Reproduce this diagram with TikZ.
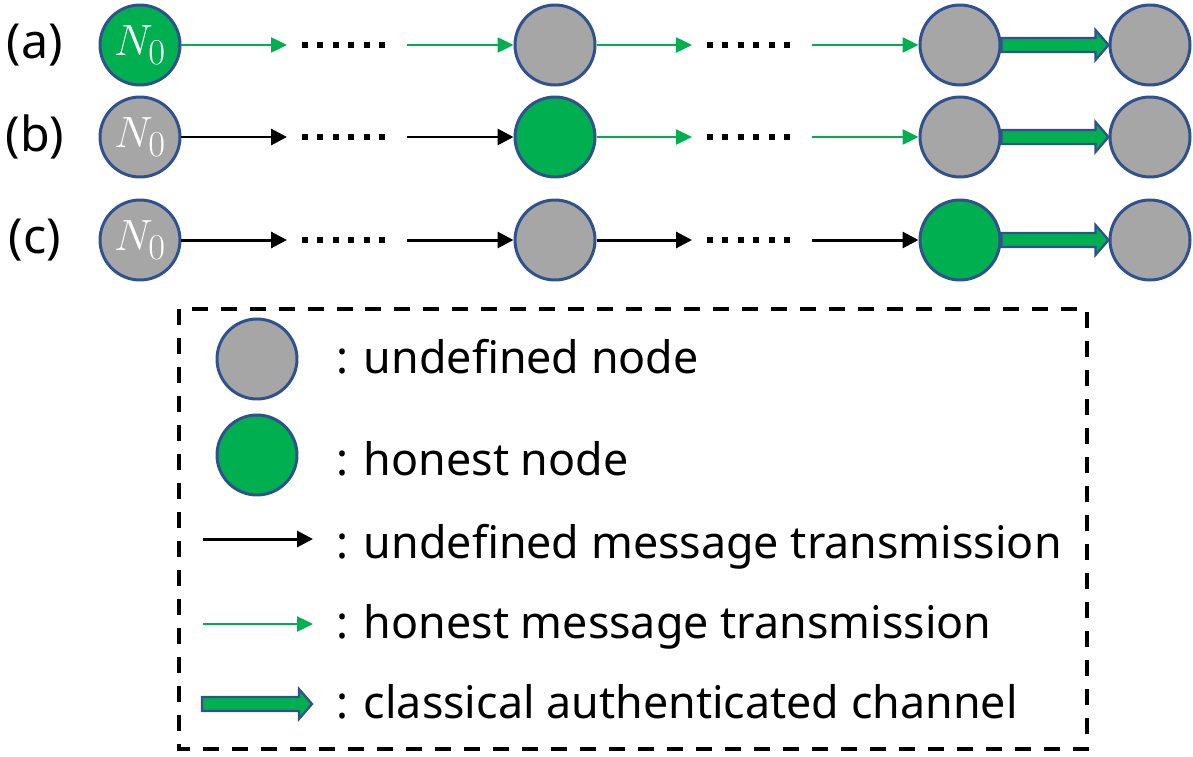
\documentclass[tikz,border=0pt]{standalone}
\usepackage{fontspec}
\setmainfont{Noto Sans}
\usetikzlibrary{calc}
\usetikzlibrary{arrows.meta}
\definecolor{hgreen}{HTML}{00B050}
\definecolor{ugray}{HTML}{A6A6A6}
\definecolor{rim}{HTML}{2F528F}
\tikzset{
	undef/.style={circle, draw=rim, line width=0.06cm, fill=ugray, minimum size=1.6cm, inner sep=0pt, text=white, font=\fontsize{31}{34}\selectfont},
	honest/.style={undef, fill=hgreen},
	umsg/.style={line width=0.06cm, -{Triangle[length=0.32cm,width=0.32cm]}},
	hmsg/.style={hgreen, line width=0.05cm, -{Triangle[length=0.32cm,width=0.3cm]}},
	dots/.style={line width=0.13cm, dash pattern=on 0.12cm off 0.188cm},
	lbl/.style={font=\fontsize{25.5}{30}\selectfont, inner sep=0pt}
}
\newcommand{\fatarrow}[2]{%
	\filldraw[fill=hgreen, draw=rim, line width=0.045cm, line join=miter]
	($(#1)+(0,-7)$) -- ($(#2)+(-13,-7)$) -- ($(#2)+(-13,-15)$) -- (#2)
	-- ($(#2)+(-13,15)$) -- ($(#2)+(-13,7)$) -- ($(#1)+(0,7)$) -- cycle;}

\begin{document}
\begin{tikzpicture}[x=0.02cm, y=-0.02cm]
	\useasboundingbox (0,0) rectangle (1193,757);

	% row (a)
	\node[lbl, font=\fontsize{27.5}{32}\selectfont] (la) at (35,45) {(a)};
	\node[honest] (A0) at (140,45) {$N_0$};
	\node[undef] (A1) at (555,45) {};
	\node[undef] (A2) at (960,45) {};
	\node[undef] (A3) at (1150,45) {};
	\coordinate (a1) at (287,45);
	\coordinate (a2) at (407,45);
	\coordinate (a3) at (692,45);
	\coordinate (a4) at (812,45);
	\draw[hmsg] (A0) -- (a1);
	\draw[dots] (302,45) -- (386,45);
	\draw[hmsg] (a2) -- (A1);
	\draw[hmsg] (A1) -- (a3);
	\draw[dots] (707,45) -- (791,45);
	\draw[hmsg] (a4) -- (A2);
	\fatarrow{A2.east}{A3.west}

	% row (b)
	\node[lbl, font=\fontsize{27.5}{32}\selectfont] (lb) at (35,137) {(b)};
	\node[undef] (B0) at (140,137) {$N_0$};
	\node[honest] (B1) at (555,137) {};
	\node[undef] (B2) at (960,137) {};
	\node[undef] (B3) at (1150,137) {};
	\coordinate (b1) at (287,137);
	\coordinate (b2) at (407,137);
	\coordinate (b3) at (692,137);
	\coordinate (b4) at (812,137);
	\draw[umsg] (B0) -- (b1);
	\draw[dots] (302,137) -- (386,137);
	\draw[umsg] (b2) -- (B1);
	\draw[hmsg] (B1) -- (b3);
	\draw[dots] (707,137) -- (791,137);
	\draw[hmsg] (b4) -- (B2);
	\fatarrow{B2.east}{B3.west}

	% row (c)
	\node[lbl, font=\fontsize{27.5}{32}\selectfont] (lc) at (35,240) {(c)};
	\node[undef] (C0) at (140,240) {$N_0$};
	\node[undef] (C1) at (555,240) {};
	\node[honest] (C2) at (960,240) {};
	\node[undef] (C3) at (1150,240) {};
	\coordinate (c1) at (287,240);
	\coordinate (c2) at (407,240);
	\coordinate (c3) at (692,240);
	\coordinate (c4) at (812,240);
	\draw[umsg] (C0) -- (c1);
	\draw[dots] (302,240) -- (386,240);
	\draw[umsg] (c2) -- (C1);
	\draw[umsg] (C1) -- (c3);
	\draw[dots] (707,240) -- (791,240);
	\draw[umsg] (c4) -- (C2);
	\fatarrow{C2.east}{C3.west}

	% legend
	\draw[line width=0.08cm, dash pattern=on 0.32cm off 0.26cm] (179,309) rectangle (1087,749);
	\node[undef] (L0) at (257,359) {};
	\node[honest] (L1) at (257,455) {};
	\coordinate (l2s) at (203,539);
	\coordinate (l2e) at (313,539);
	\coordinate (l3s) at (203,624);
	\coordinate (l3e) at (313,624);
	\coordinate (l4s) at (202,704);
	\coordinate (l4e) at (312,704);
	\draw[umsg] (l2s) -- (l2e);
	\draw[hmsg] (l3s) -- (l3e);
	\fatarrow{l4s}{l4e}
	\node[lbl, anchor=base west] (t0) at (336,373) {: undefined node};
	\node[lbl, anchor=base west] (t1) at (336,475) {: honest node};
	\node[lbl, anchor=base west] (t2) at (336,558) {: undefined message transmission};
	\node[lbl, anchor=base west] (t3) at (336,638) {: honest message transmission};
	\node[lbl, anchor=base west] (t4) at (336,718) {: classical authenticated channel};
\end{tikzpicture}
\end{document}
